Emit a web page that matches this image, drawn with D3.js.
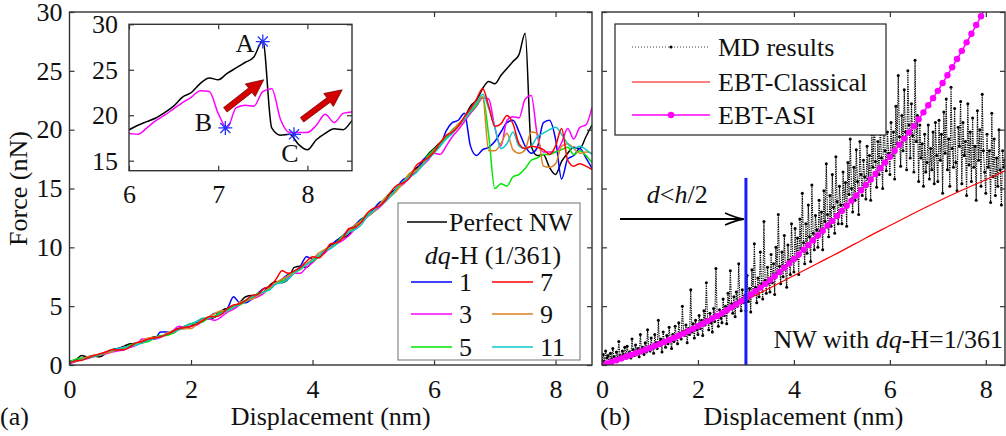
<!DOCTYPE html>
<html>
<head>
<meta charset="utf-8">
<script src="https://cdn.jsdelivr.net/npm/d3@7"></script>
<style>
body { margin: 0; background: #fff; }
text { font-family: "Liberation Serif", "Times New Roman", serif; font-size: 26px; fill: #111; }
</style>
</head>
<body>
<script>

// ---- panel (a): force vs displacement, sampled every 0.1 nm from 0 to 8.6
var dispA = d3.range(0, 87).map(i => +(i * 0.1).toFixed(1));

var perfectNW = [
  0.2,0.4,0.8,0.7,0.75,0.7,1.0,1.3,1.4,1.6,
  1.8,1.85,1.9,2.2,2.4,2.4,2.6,2.9,3.1,3.1,
  3.3,3.7,3.9,3.9,4.1,4.6,4.8,4.8,5.3,5.8,
  5.9,5.9,6.2,6.8,7.1,7.0,7.3,8.3,8.4,8.3,
  8.8,9.3,9.6,10.0,10.6,10.8,11.1,11.8,12.3,12.6,
  13.0,13.5,14.2,14.7,15.0,15.5,16.2,16.7,17.1,17.9,
  18.4,18.9,19.3,19.7,20.3,21.0,22.0,22.5,23.5,
  24.1,23.9,24.6,25.2,25.8,26.4,28.2,18.6,17.8,17.9,16.8,16.2,17.3,18.0,18.5,18.4,19.4,20.4
];
var dqH1 = [
  0.2,0.3,0.5,0.7,0.8,0.9,1.0,1.2,1.4,1.5,
  1.6,1.7,2.0,2.2,2.2,2.8,2.8,2.7,3.1,3.3,
  3.5,3.6,3.7,4.1,4.4,4.4,4.8,5.8,5.3,5.3,
  5.6,6.1,6.5,6.6,6.9,7.3,7.7,7.9,8.4,9.2,
  9.0,9.2,9.6,10.2,10.6,11.0,11.5,11.9,12.4,12.7,
  13.2,13.8,14.0,14.5,15.2,15.8,16.0,16.4,17.3,17.8,
  18.2,18.6,19.9,20.6,20.8,21.4,18.6,17.8,18.3,
  18.5,19.0,19.8,20.6,20.8,19.8,18.6,18.0,18.5,20.6,20.8,19.2,15.8,17.5,17.8,18.4,17.6,16.7
];
var dqH3 = [
  0.1,0.3,0.45,0.55,0.7,0.85,0.95,1.1,1.2,1.3,
  1.5,1.7,2.2,2.2,2.2,2.35,2.6,2.9,3.3,3.2,
  3.3,3.4,3.8,3.9,3.8,4.1,4.5,4.75,5.1,5.4,
  5.6,5.8,6.1,6.6,6.9,7.1,7.4,7.8,7.8,8.3,
  8.7,9.2,9.5,10.0,10.3,10.6,11.0,11.6,12.2,12.6,
  13.0,13.4,13.9,14.5,15.0,15.4,16.0,16.4,16.9,17.4,
  18.0,17.9,18.6,19.4,20.0,20.7,21.4,22.0,22.7,
  22.6,20.2,18.6,20.8,21.1,21.0,22.6,22.9,19.5,18.1,18.1,18.1,18.9,20.1,19.2,20.2,20.4,21.9
];
var dqH5 = [
  0.3,0.5,0.6,0.6,0.75,0.85,1.1,1.2,1.3,1.45,
  1.7,1.85,1.9,2.0,2.3,2.5,2.5,2.7,3.0,3.3,
  3.5,3.5,3.7,4.0,4.2,4.5,4.7,5.0,5.1,5.4,
  5.7,6.1,6.2,6.5,7.0,7.1,7.6,7.9,8.1,8.6,
  8.8,9.2,9.8,10.0,10.4,11.0,11.3,11.7,12.3,12.8,
  13.0,13.6,14.2,14.5,15.0,15.6,16.2,16.5,17.0,17.8,
  18.3,18.7,19.3,20.0,20.4,20.9,21.5,22.1,22.8,
  19.5,15.0,15.4,15.2,16.0,16.2,16.7,17.4,17.6,17.9,17.9,18.1,18.3,18.5,17.9,18.2,17.8,17.2
];
var dqH7 = [
  0.2,0.35,0.4,0.6,0.8,0.95,1.1,1.3,1.3,1.3,
  1.55,1.9,2.0,2.2,2.3,2.4,2.6,2.85,3.1,3.2,
  3.3,3.5,3.8,4.1,4.1,4.3,4.8,5.1,5.2,5.5,
  5.9,6.0,6.5,6.7,7.3,8.0,7.8,8.0,8.3,8.8,
  9.2,9.1,9.6,10.3,10.4,10.8,11.6,11.7,12.1,12.9,
  13.3,13.5,14.0,14.8,15.3,15.5,15.9,16.9,17.3,17.6,
  18.1,18.9,19.5,19.8,20.3,21.1,21.8,22.6,23.5,
  22.0,20.3,20.5,21.2,20.5,18.8,18.4,18.6,18.5,18.3,17.9,18.6,20.1,17.4,16.9,17.1,16.9,16.6
];
var dqH9 = [
  0.2,0.3,0.5,0.7,0.85,0.9,1.0,1.15,1.35,1.5,
  1.6,1.75,2.1,2.3,2.35,2.4,2.7,2.9,3.0,3.1,
  3.1,3.5,3.9,4.1,4.4,4.6,4.6,4.9,5.3,5.5,
  5.6,5.9,6.2,6.6,7.0,7.3,7.6,7.8,8.3,8.6,
  9.0,9.5,9.8,10.0,10.3,10.9,11.4,11.9,12.2,12.6,
  13.0,13.6,14.2,14.4,14.9,15.6,16.3,16.5,17.0,17.6,
  18.2,18.9,19.5,19.9,20.5,21.0,21.7,22.3,22.8,
  18.2,18.2,18.8,19.7,18.3,18.0,18.3,19.8,19.7,16.9,16.8,17.1,18.6,18.8,18.4,18.0,18.1,18.0
];
var dqH11 = [
  0.2,0.35,0.45,0.6,0.75,0.9,1.1,1.25,1.4,1.5,
  1.6,1.7,1.9,2.1,2.25,2.4,2.6,2.8,3.0,3.25,
  3.5,3.7,4.0,4.0,4.1,4.4,4.6,4.9,5.2,5.5,
  5.8,6.0,6.2,6.4,6.9,7.0,7.3,7.8,8.2,8.5,
  8.9,9.3,9.7,9.9,10.3,10.8,11.3,11.5,11.9,12.6,
  13.1,13.5,13.9,14.4,15.2,15.6,16.0,16.3,16.9,17.5,
  18.0,18.6,19.2,19.7,20.3,20.9,21.6,22.3,23.0,
  21.8,20.2,18.4,18.8,19.8,18.6,18.4,18.6,19.4,19.7,20.0,20.2,19.6,18.8,18.4,18.6,18.3,17.9
];

var seriesNames = ["Perfect NW", "1", "3", "5", "7", "9", "11"];
var seriesColors = ["#000000", "#0000ff", "#ff00ff", "#00e600", "#ff0000", "#dd8022", "#10c8c8"];
var seriesValues = [perfectNW, dqH1, dqH3, dqH5, dqH7, dqH9, dqH11];

// inset markers and arrows (displacement nm, force nN)
var markLabels = ["A", "B", "C"];
var markDisp = [7.5, 7.08, 7.85];
var markForce = [28.1, 18.6, 17.9];
var arrowFrom = [[7.08, 20.6], [7.94, 19.5]];
var arrowTo = [[7.51, 23.9], [8.39, 22.8]];

// ---- panel (b): MD results every 0.025 nm from 0 to 8.4
var dispMD = d3.range(0, 337).map(i => +(i * 0.025).toFixed(3));
var mdForce = [
  0.4,0.9,0.3,1.2,0.6,0.8,0.2,1.0,0.5,1.4,0.7,0.4,1.1,0.6,2.0,0.8,0.5,1.2,0.9,1.5,
  0.8,1.6,0.9,1.1,0.6,2.2,1.3,0.8,1.7,1.0,1.4,0.7,2.6,1.2,1.5,0.9,1.9,1.1,3.0,1.4,
  1.2,2.3,1.6,1.0,2.6,1.9,1.4,3.8,1.7,2.2,1.1,2.8,2.0,1.5,2.5,1.8,3.2,2.1,1.4,2.6,
  2.0,3.3,2.4,1.8,3.6,2.7,2.2,5.0,2.9,2.5,3.4,1.9,3.1,2.6,6.4,2.8,3.5,2.3,3.8,3.0,
  2.6,4.2,3.1,3.8,2.5,4.6,3.4,7.0,3.9,3.0,4.4,3.6,2.8,4.8,3.7,8.2,4.1,3.3,4.7,4.0,
  3.6,5.6,4.2,5.0,3.5,6.1,4.7,8.0,5.2,4.4,5.8,4.1,6.2,5.0,8.6,5.5,4.6,6.4,5.3,5.9,
  4.6,7.6,5.4,6.5,4.5,8.1,6.0,10.3,6.6,5.3,7.4,5.8,9.6,6.9,5.6,12.2,7.2,6.1,8.3,7.0,
  6.2,9.4,7.0,8.6,6.0,10.0,7.8,12.8,8.4,6.9,9.6,7.5,11.0,8.2,6.6,10.2,8.9,7.7,12.0,9.1,
  7.9,11.6,9.0,10.8,7.7,12.4,9.9,14.6,10.4,8.6,12.0,9.5,13.6,10.9,8.8,15.3,11.2,9.8,12.7,11.5,
  10.0,14.0,11.4,13.0,9.8,14.8,12.2,17.1,12.8,10.9,14.4,11.8,16.2,13.4,11.2,17.7,13.9,12.0,15.2,13.6,
  12.0,16.4,13.6,15.5,11.8,17.2,14.5,19.2,15.0,13.0,16.8,14.0,18.3,15.6,12.8,19.0,16.2,14.4,17.4,16.0,
  14.1,18.6,15.8,17.8,14.0,19.6,16.8,21.4,17.3,15.1,19.0,16.2,20.4,17.6,15.0,22.1,18.2,16.5,19.8,18.0,
  16.2,20.6,17.8,19.8,15.8,22.0,18.8,24.6,19.4,16.9,21.2,18.2,23.4,19.8,16.6,25.0,20.4,17.6,22.2,19.5,
  16.4,25.9,19.0,21.2,15.6,20.4,17.6,18.8,15.2,19.6,16.4,17.2,20.4,15.8,18.4,16.6,19.8,15.4,20.6,17.8,
  15.6,20.8,17.4,19.6,14.6,21.5,18.0,22.6,16.6,19.2,15.2,23.6,18.4,16.8,21.8,17.2,14.8,20.2,18.6,22.4,
  15.4,20.6,17.8,19.0,14.4,22.2,17.0,19.8,15.6,21.0,16.8,18.6,14.0,21.6,17.4,20.0,15.2,23.0,18.2,16.4,
  14.6,19.6,16.8,18.2,13.8,21.4,16.0,19.2,14.4,17.6,15.2,20.0,16.6,13.6,18.2,16.8,17.4
];

var dispASI = d3.range(0, 81).map(i => +(i * 0.1).toFixed(1));
var asiForce = [
  0.0,0.13,0.27,0.41,0.55,0.7,0.85,1.0,1.15,1.3,
  1.45,1.61,1.78,1.95,2.12,2.3,2.49,2.68,2.88,3.09,
  3.3,3.51,3.73,3.95,4.17,4.4,4.65,4.9,5.16,5.43,
  5.7,5.99,6.28,6.58,6.89,7.2,7.55,7.9,8.26,8.63,
  9.0,9.39,9.79,10.19,10.59,11.0,11.41,11.83,12.25,12.67,
  13.1,13.53,13.97,14.41,14.85,15.3,15.77,16.24,16.72,17.2,
  17.7,18.21,18.72,19.24,19.77,20.3,20.88,21.47,22.07,22.68,
  23.3,23.96,24.63,25.31,26.0,26.7,27.42,28.15,28.89,29.64,
  30.4
];

var dispEBT = [0, 0.5, 1, 1.5, 2, 2.5, 3, 3.5, 4, 4.5, 5, 5.5, 6, 6.5, 7, 7.5, 8, 8.4];
var classicalForce = [0, 0.78, 1.6, 2.45, 3.4, 4.4, 5.5, 6.55, 7.6, 8.65, 9.7, 10.8, 11.85, 12.9, 13.9, 14.85, 15.75, 16.5];

var halfDepth = 3;          // d = h/2 marker
var halfDepthTop = 15.9;

var xTicks = [0, 2, 4, 6, 8];
var yTicks = [0, 5, 10, 15, 20, 25, 30];
var insetXTicks = [6, 7, 8];
var insetYTicks = [15, 20, 25, 30];


var svg = d3.select("body").append("svg")
  .attr("width", 1006)
  .attr("height", 436);

var xA = d3.scaleLinear().domain([0, 8.6]).range([69.5, 592]);
var yF = d3.scaleLinear().domain([0, 30]).range([365, 12]);
var xB = d3.scaleLinear().domain([0, 8.4]).range([602, 1005]);
var xI = d3.scaleLinear().domain([6, 8.5]).range([129, 352]);
var yI = d3.scaleLinear().domain([13.9, 30]).range([170.7, 24.3]);

function addClip(id, x, y) {
  svg.append("clipPath").attr("id", id)
    .append("rect")
    .attr("x", x.range()[0]).attr("y", y.range()[1])
    .attr("width", x.range()[1] - x.range()[0])
    .attr("height", y.range()[0] - y.range()[1]);
}

function drawAxes(x, y, bottomTicks, topTicks, leftTicks, showX, showY, padX, padY) {
  var g = svg.append("g");
  var x0 = x.range()[0], x1 = x.range()[1], y0 = y.range()[0], y1 = y.range()[1];
  g.append("g").attr("transform", `translate(0,${y0})`)
    .call(d3.axisBottom(x).tickValues(bottomTicks).tickSize(-5).tickPadding(padX)
      .tickFormat(showX ? d3.format("d") : ""));
  g.append("g").attr("transform", `translate(0,${y1})`)
    .call(d3.axisTop(x).tickValues(topTicks).tickSize(-5).tickFormat(""));
  g.append("g").attr("transform", `translate(${x0},0)`)
    .call(d3.axisLeft(y).tickValues(leftTicks).tickSize(-5).tickPadding(padY)
      .tickFormat(showY ? d3.format("d") : ""));
  g.append("g").attr("transform", `translate(${x1},0)`)
    .call(d3.axisRight(y).tickValues(leftTicks).tickSize(-5).tickFormat(""));
  g.selectAll(".domain").remove();
  g.selectAll(".tick line").attr("stroke", "#333").attr("stroke-width", 1.2);
  g.append("rect")
    .attr("x", x0).attr("y", y1)
    .attr("width", x1 - x0).attr("height", y0 - y1)
    .attr("fill", "none").attr("stroke", "#333").attr("stroke-width", 1.4);
  return g;
}

// ================= panel (a) =================
addClip("clipA", xA, yF);
addClip("clipI", xI, yI);
addClip("clipB", xB, yF);

var lineA = d3.line()
  .x((d, i) => xA(dispA[i]))
  .y(d => yF(d))
  .curve(d3.curveMonotoneX);

var curvesA = svg.append("g").attr("clip-path", "url(#clipA)");
[0, 1, 2, 3, 5, 6, 4].forEach(function(k) {
  curvesA.append("path")
    .datum(seriesValues[k])
    .attr("d", lineA)
    .attr("fill", "none")
    .attr("stroke", seriesColors[k])
    .attr("stroke-width", 1.5);
});

drawAxes(xA, yF, xTicks, [6, 8], yTicks, true, true, 15, 7);

// inset
svg.append("rect")
  .attr("x", xI.range()[0]).attr("y", yI.range()[1])
  .attr("width", xI.range()[1] - xI.range()[0])
  .attr("height", yI.range()[0] - yI.range()[1])
  .attr("fill", "#fff");

var lineI = d3.line()
  .x((d, i) => xI(dispA[i]))
  .y(d => yI(d))
  .curve(d3.curveMonotoneX);

var insetG = svg.append("g").attr("clip-path", "url(#clipI)");
[0, 2].forEach(function(k) {
  insetG.append("path")
    .datum(seriesValues[k])
    .attr("d", lineI)
    .attr("fill", "none")
    .attr("stroke", seriesColors[k])
    .attr("stroke-width", 1.5);
});

var star = {
  draw: function(ctx, size) {
    var r = Math.sqrt(size) / 2, q = r * 0.72;
    ctx.moveTo(-r, 0); ctx.lineTo(r, 0);
    ctx.moveTo(0, -r); ctx.lineTo(0, r);
    ctx.moveTo(-q, -q); ctx.lineTo(q, q);
    ctx.moveTo(-q, q); ctx.lineTo(q, -q);
  }
};

markLabels.forEach(function(lab, i) {
  svg.append("path")
    .attr("d", d3.symbol(star, 196)())
    .attr("transform", `translate(${xI(markDisp[i])},${yI(markForce[i])})`)
    .attr("fill", "none")
    .attr("stroke", "#2233ff")
    .attr("stroke-width", 1.3);
});

var labelOffset = [[-18, 10], [-22, 3], [-4, 28]];
markLabels.forEach(function(lab, i) {
  svg.append("text")
    .attr("x", xI(markDisp[i]) + labelOffset[i][0])
    .attr("y", yI(markForce[i]) + labelOffset[i][1])
    .attr("text-anchor", "middle")
    .text(lab);
});

function fatArrow(x1, y1, x2, y2) {
  var dx = x2 - x1, dy = y2 - y1, L = Math.hypot(dx, dy);
  var ux = dx / L, uy = dy / L, nx = -uy, ny = ux;
  var hw = 2.8, hh = 8, hl = 17;
  var bx = x2 - ux * hl, by = y2 - uy * hl;
  var pts = [
    [x1 + nx * hw, y1 + ny * hw], [bx + nx * hw, by + ny * hw], [bx + nx * hh, by + ny * hh],
    [x2, y2],
    [bx - nx * hh, by - ny * hh], [bx - nx * hw, by - ny * hw], [x1 - nx * hw, y1 - ny * hw]
  ];
  return "M" + pts.map(p => p[0].toFixed(1) + "," + p[1].toFixed(1)).join("L") + "Z";
}

arrowFrom.forEach(function(a, i) {
  svg.append("path")
    .attr("d", fatArrow(xI(a[0]), yI(a[1]), xI(arrowTo[i][0]), yI(arrowTo[i][1])))
    .attr("fill", "#d40000")
    .attr("stroke", "#7a0000")
    .attr("stroke-width", 0.8);
});

drawAxes(xI, yI, insetXTicks, insetXTicks, insetYTicks, true, true, 14, 11);

// legend (a)
var legA = svg.append("g");
legA.append("rect")
  .attr("x", 398).attr("y", 203).attr("width", 182).attr("height", 157)
  .attr("fill", "#fff").attr("stroke", "#888").attr("stroke-width", 1.2);
legA.append("line")
  .attr("x1", 407).attr("x2", 447).attr("y1", 222).attr("y2", 222)
  .attr("stroke", seriesColors[0]).attr("stroke-width", 1.5);
legA.append("text").attr("x", 449).attr("y", 222).attr("dy", "0.33em").text(seriesNames[0]);

var dqTitle = legA.append("text").attr("x", 493).attr("y", 255).attr("dy", "0.33em")
  .attr("text-anchor", "middle");
dqTitle.append("tspan").attr("font-style", "italic").text("dq");
dqTitle.append("tspan").text("-H (1/361)");

// two columns: 1,3,5 left and 7,9,11 right
var legRows = [282, 314, 347];
var legCols = [411, 492];
var legOrder = [[1, 4], [2, 5], [3, 6]];
legOrder.forEach(function(row, r) {
  row.forEach(function(k, c) {
    legA.append("line")
      .attr("x1", legCols[c]).attr("x2", legCols[c] + 41)
      .attr("y1", legRows[r]).attr("y2", legRows[r])
      .attr("stroke", seriesColors[k]).attr("stroke-width", 1.5);
    legA.append("text")
      .attr("x", legCols[c] + 48).attr("y", legRows[r]).attr("dy", "0.33em")
      .text(seriesNames[k]);
  });
});

svg.append("text")
  .attr("transform", `translate(27, ${(yF.range()[0] + yF.range()[1]) / 2}) rotate(-90)`)
  .attr("text-anchor", "middle")
  .text("Force (nN)");

svg.append("text")
  .attr("x", (xA.range()[0] + xA.range()[1]) / 2).attr("y", 425)
  .attr("text-anchor", "middle")
  .text("Displacement (nm)");
svg.append("text").attr("x", 0).attr("y", 425).text("(a)");

// ================= panel (b) =================
var plotB = svg.append("g").attr("clip-path", "url(#clipB)");

var lineMD = d3.line()
  .x((d, i) => xB(dispMD[i]))
  .y(d => yF(d));

plotB.append("path")
  .datum(mdForce)
  .attr("d", lineMD)
  .attr("fill", "none")
  .attr("stroke", "#000")
  .attr("stroke-width", 1.1)
  .attr("stroke-dasharray", "1.3,1");

plotB.selectAll(".md-dot")
  .data(mdForce)
  .enter()
  .append("circle")
  .attr("class", "md-dot")
  .attr("cx", (d, i) => xB(dispMD[i]))
  .attr("cy", d => yF(d))
  .attr("r", 1.5)
  .attr("fill", "#000");

var lineEBT = d3.line()
  .x((d, i) => xB(dispEBT[i]))
  .y(d => yF(d))
  .curve(d3.curveMonotoneX);

plotB.append("path")
  .datum(classicalForce)
  .attr("d", lineEBT)
  .attr("fill", "none")
  .attr("stroke", "#ff0000")
  .attr("stroke-width", 1.2);

var lineASI = d3.line()
  .x((d, i) => xB(dispASI[i]))
  .y(d => yF(d));

plotB.append("path")
  .datum(asiForce)
  .attr("d", lineASI)
  .attr("fill", "none")
  .attr("stroke", "#ff00ff")
  .attr("stroke-width", 1.5);

plotB.selectAll(".asi-dot")
  .data(asiForce)
  .enter()
  .append("circle")
  .attr("class", "asi-dot")
  .attr("cx", (d, i) => xB(dispASI[i]))
  .attr("cy", d => yF(d))
  .attr("r", 3.2)
  .attr("fill", "#ff00ff");

plotB.append("line")
  .attr("x1", xB(halfDepth)).attr("x2", xB(halfDepth))
  .attr("y1", yF(halfDepthTop)).attr("y2", yF(0))
  .attr("stroke", "#1a1aff")
  .attr("stroke-width", 3);

// arrow d < h/2
var arY = yF(12.4), arX0 = xB(0.375), arX1 = xB(2.96);
svg.append("line")
  .attr("x1", arX0).attr("x2", arX1 - 2).attr("y1", arY).attr("y2", arY)
  .attr("stroke", "#000").attr("stroke-width", 2);
svg.append("path")
  .attr("d", `M${arX1 - 19},${arY - 6}Q${arX1 - 8},${arY - 1} ${arX1},${arY}Q${arX1 - 8},${arY + 1} ${arX1 - 19},${arY + 6}`)
  .attr("fill", "none").attr("stroke", "#000").attr("stroke-width", 1.6);

var dh = svg.append("text").attr("x", xB(1.57)).attr("y", 203).attr("text-anchor", "middle");
dh.append("tspan").attr("font-style", "italic").text("d");
dh.append("tspan").text("<");
dh.append("tspan").attr("font-style", "italic").text("h");
dh.append("tspan").text("/2");

var nw = svg.append("text").attr("x", 1003).attr("y", 348).attr("text-anchor", "end");
nw.append("tspan").text("NW with ");
nw.append("tspan").attr("font-style", "italic").text("dq");
nw.append("tspan").text("-H=1/361");

drawAxes(xB, yF, xTicks, [2, 4, 6, 8], yTicks, true, false, 15, 7);

// legend (b)
var legB = svg.append("g");
legB.append("rect")
  .attr("x", 615).attr("y", 24).attr("width", 271).attr("height", 111)
  .attr("fill", "#fff").attr("stroke", "#222").attr("stroke-width", 1.2);
legB.append("line")
  .attr("x1", 632).attr("x2", 710).attr("y1", 47).attr("y2", 47)
  .attr("stroke", "#444").attr("stroke-width", 1).attr("stroke-dasharray", "1,2");
legB.append("circle").attr("cx", 671).attr("cy", 47).attr("r", 1.6).attr("fill", "#000");
legB.append("line")
  .attr("x1", 632).attr("x2", 710).attr("y1", 82).attr("y2", 82)
  .attr("stroke", "#ff0000").attr("stroke-width", 1.2);
legB.append("line")
  .attr("x1", 632).attr("x2", 710).attr("y1", 115).attr("y2", 115)
  .attr("stroke", "#ff00ff").attr("stroke-width", 1.5);
legB.append("circle").attr("cx", 671).attr("cy", 115).attr("r", 3.2).attr("fill", "#ff00ff");
["MD results", "EBT-Classical", "EBT-ASI"].forEach(function(t, i) {
  legB.append("text").attr("x", 718).attr("y", [47, 82, 115][i]).attr("dy", "0.33em").text(t);
});

svg.append("text")
  .attr("x", (xB.range()[0] + xB.range()[1]) / 2).attr("y", 425)
  .attr("text-anchor", "middle")
  .text("Displacement (nm)");
svg.append("text").attr("x", 600).attr("y", 425).text("(b)");

</script>
</body>
</html>
